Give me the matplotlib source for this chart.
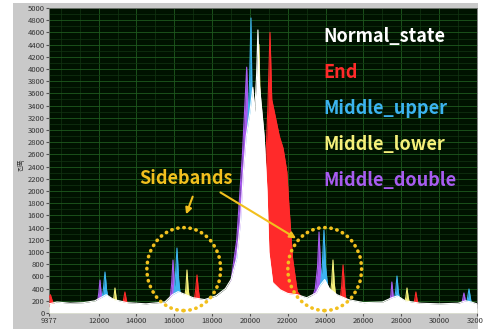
import matplotlib.pyplot as plt
from matplotlib.patches import Ellipse, Rectangle

plt.rcParams['font.family'] = ['Noto Sans CJK KR', 'DejaVu Sans']

# spectrum values (frequency, amplitude)
normal_x = [9377, 9800, 10500, 11200, 11800, 12100, 12400, 12800, 13500, 14500, 15500, 15900, 16200, 16600,
            17000, 17600, 18200, 18700, 19000, 19300, 19500, 19650, 19800, 20000, 20150, 20250, 20350, 20420,
            20480, 20600, 20750, 20900, 21000, 21200, 21600, 22000, 22500, 23000, 23500, 23700, 23950, 24200,
            24600, 25200, 26000, 27000, 27500, 27800, 28200, 29000, 30000, 31000, 31400, 31700, 32000]
normal_y = [150, 180, 160, 170, 200, 250, 300, 220, 170, 150, 180, 300, 350, 300,
            250, 220, 280, 400, 550, 900, 1500, 2300, 2900, 3300, 3700, 3300, 3900, 4640,
            3800, 3400, 2900, 2000, 1000, 500, 380, 320, 300, 250, 330, 450, 550, 400,
            300, 220, 170, 180, 250, 280, 200, 160, 150, 160, 200, 180, 150]

end_x = [9377, 9450, 9550, 9700, 13100, 13250, 13320, 13390, 13460, 13530, 13700, 16900, 17050, 17130,
         17200, 17270, 17350, 17500, 19500, 20000, 20500, 20800, 20950, 21058, 21150, 21350, 21550, 21750,
         21880, 21950, 22050, 22250, 22500, 23000, 24600, 24780, 24850, 24920, 24990, 25060, 25300, 28500,
         28650, 28710, 28770, 28830, 28900, 29100, 32000]
end_y = [250, 300, 200, 80, 80, 130, 220, 344, 220, 130, 80, 100, 200, 380,
         623, 380, 200, 100, 200, 400, 900, 2200, 3400, 4600, 3500, 3200, 2900, 2700,
         2450, 2311, 1800, 900, 350, 150, 120, 250, 450, 787, 450, 250, 120, 80,
         130, 220, 344, 220, 130, 80, 80]

upper_x = [9377, 11900, 12150, 12250, 12336, 12420, 12520, 12800, 15700, 15950, 16050, 16140, 16230, 16330,
           16600, 19000, 19500, 19800, 19980, 20053, 20120, 20300, 20700, 21200, 23400, 23700, 23820, 23910,
           24000, 24120, 24400, 27400, 27620, 27700, 27770, 27840, 27920, 28200, 31200, 31450, 31576, 31700,
           32000]
upper_y = [80, 100, 200, 380, 672, 380, 200, 100, 100, 250, 550, 1065, 550, 250,
           100, 300, 1200, 2500, 3800, 4836, 3200, 2000, 800, 300, 150, 400, 750, 1360,
           750, 400, 150, 100, 200, 350, 606, 350, 200, 100, 80, 150, 393, 150,
           80]

lower_x = [9377, 12600, 12750, 12810, 12864, 12920, 12980, 13200, 16400, 16540, 16610, 16670, 16730, 16800,
           17000, 19800, 20100, 20350, 20476, 20560, 20800, 21200, 24100, 24250, 24320, 24387, 24450, 24520,
           24700, 28000, 28170, 28240, 28300, 28360, 28430, 28600, 32000]
lower_y = [80, 100, 160, 260, 410, 260, 160, 100, 100, 220, 400, 705, 400, 220,
           100, 300, 1500, 3000, 4400, 3000, 1200, 300, 150, 300, 500, 869, 500, 300,
           150, 100, 160, 260, 410, 260, 160, 100, 80]

double_x = [9377, 11800, 11950, 12010, 12072, 12130, 12200, 12500, 15600, 15780, 15860, 15930, 16000, 16080,
            16300, 18900, 19300, 19600, 19760, 19826, 19900, 20100, 20500, 21000, 23200, 23450, 23570, 23650,
            23730, 23850, 24100, 27200, 27380, 27450, 27500, 27560, 27630, 27900, 31000, 31200, 31310, 31420,
            32000]
double_y = [80, 100, 200, 330, 540, 330, 200, 100, 100, 250, 480, 869, 480, 250,
            100, 300, 1200, 2600, 3600, 4030, 3300, 2000, 700, 250, 150, 400, 750, 1328,
            750, 400, 150, 100, 180, 300, 508, 300, 180, 100, 80, 150, 328, 150,
            80]

labels = ["Normal_state", "End", "Middle_upper", "Middle_lower", "Middle_double"]
colors = ["#ffffff", "#ff2a2a", "#3cb4f0", "#f5f07a", "#a85cf0"]

x_ticks = [9377, 12000, 14000, 16000, 18000, 20000, 22000, 24000, 26000, 28000, 30000, 32000]
y_ticks = list(range(0, 5001, 200))

fig = plt.figure(figsize=(4.83, 3.29), dpi=100, facecolor="white")
fig.patches.append(Rectangle((13 / 483, 0), 465 / 483, 326 / 329, transform=fig.transFigure,
                             facecolor="#c9c9c9", edgecolor="none", zorder=-5))
ax = fig.add_axes([49 / 483, 16 / 329, 428 / 483, 305 / 329])
ax.set_facecolor("#001200")

series = {
    "End": (end_x, end_y),
    "Middle_double": (double_x, double_y),
    "Middle_upper": (upper_x, upper_y),
    "Middle_lower": (lower_x, lower_y),
    "Normal_state": (normal_x, normal_y),
}
for name, (xs, ys) in series.items():
    c = colors[labels.index(name)]
    ax.fill_between(xs, 0, ys, color=c, linewidth=0, zorder=3)
    ax.plot(xs, ys, color=c, linewidth=0.8, zorder=3)

ax.set_xlim(9377, 32000)
ax.set_ylim(0, 5000)
ax.set_xticks(x_ticks)
ax.set_yticks(y_ticks)
ax.set_xticks(range(10000, 32000, 1000), minor=True)
ax.set_yticks(range(100, 5000, 200), minor=True)
ax.tick_params(labelsize=5.5, labelcolor="#333333", length=2, color="#555555", pad=1)
ax.tick_params(which="minor", length=0)
ax.grid(True, which="major", color="#1f5a1f", linewidth=0.6)
ax.grid(True, which="minor", color="#123512", linewidth=0.5)
ax.set_axisbelow(True)
for s in ax.spines.values():
    s.set_color("#777777")
    s.set_linewidth(0.6)

fig.text(22 / 483, 1 - 165 / 329, "진폭", rotation=90, fontsize=5, color="#333333", ha="center", va="center")

# legend as coloured text
for i, (lab, c) in enumerate(zip(labels, colors)):
    ax.text(0.64, 0.905 - i * 0.118, lab, transform=ax.transAxes, color=c, fontsize=13,
            fontweight="bold", ha="left", va="center", zorder=6)

gold = "#f2c01e"
ax.text(0.212, 0.44, "Sidebands", transform=ax.transAxes, color=gold, fontsize=13,
        fontweight="bold", ha="left", va="center", zorder=6)
ax.annotate("", xy=(0.318, 0.315), xytext=(0.338, 0.39), xycoords="axes fraction",
            arrowprops=dict(arrowstyle="-|>", color=gold, lw=1.5, mutation_scale=9), zorder=6)
ax.annotate("", xy=(0.583, 0.24), xytext=(0.395, 0.40), xycoords="axes fraction",
            arrowprops=dict(arrowstyle="-|>", color=gold, lw=1.5, mutation_scale=9), zorder=6)

for cx in (16500, 23950):
    ax.add_patch(Ellipse((cx, 720), 3900, 1360, fill=False, edgecolor=gold, linewidth=2.6,
                         linestyle=(0, (0.1, 1.6)), capstyle="round", zorder=6))

fig.savefig("out.png", dpi=100, facecolor=fig.get_facecolor())
